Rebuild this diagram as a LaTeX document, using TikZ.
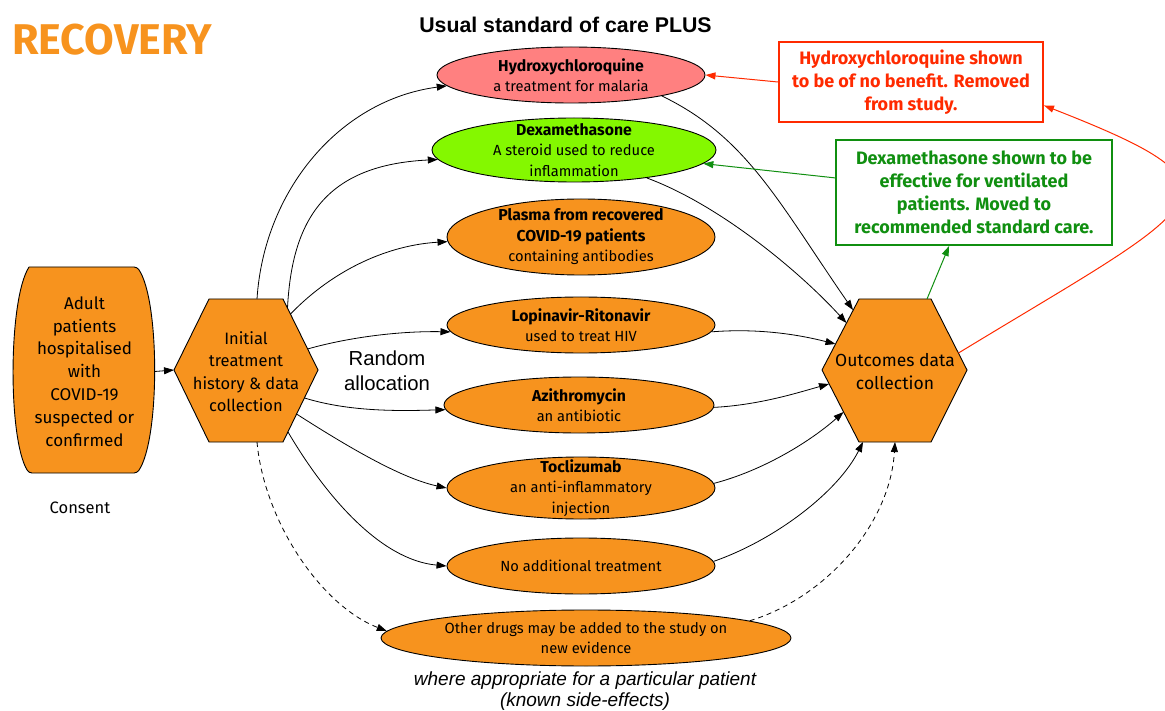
\documentclass[tikz,border=0pt]{standalone}
\usepackage{fontspec}
\setmainfont{Fira Sans}
\newfontfamily\helv{Liberation Sans}
\usetikzlibrary{arrows.meta,shapes.geometric}
\definecolor{orng}{HTML}{F7931E}
\definecolor{salmon}{HTML}{FF8080}
\definecolor{limec}{HTML}{84F800}
\definecolor{redc}{HTML}{FF2A00}
\definecolor{grn}{HTML}{108F10}
\newcommand{\bt}[1]{{\fontsize{15.8}{20.5}\selectfont\bfseries #1}}
\begin{document}
\begin{tikzpicture}[x=1pt,y=-1pt,
  drug/.style={ellipse, draw=black, line width=0.9pt, fill=orng, inner xsep=0pt, inner ysep=-40pt, align=center, font=\fontsize{14.7}{20.5}\selectfont},
  shapeline/.style={draw=black, line width=0.9pt, fill=orng},
  txt/.style={align=center, inner sep=0pt},
  conn/.style={-{Triangle[length=10pt,width=7pt]}, line width=0.8pt},
  dconn/.style={conn, dash pattern=on 5pt off 4pt},
  notebox/.style={draw, line width=2pt, inner sep=0pt, align=center, font=\fontsize{18}{22.8}\selectfont\bfseries}
]
\useasboundingbox (0,0) rectangle (1165,711);

% titles
\node[txt, text=orng, font=\fontsize{43}{43}\selectfont\bfseries] (title) at (112,40) {RECOVERY};
\node[txt, font=\helv\fontsize{21.3}{24}\selectfont\bfseries] (usual) at (565.5,25) {Usual standard of care PLUS};

% left patient box
\draw[shapeline, rounded corners=3pt] (29,267) -- (137,267) .. controls (160,300) and (160,440) .. (137,473) -- (29,473) .. controls (8,440) and (8,300) .. (29,267);
\node[txt, minimum width=140, minimum height=200, font=\fontsize{17}{22.8}\selectfont] (adult) at (84.5,371.5) {Adult\\patients\\hospitalised\\with\\COVID-19\\suspected or\\confirmed};
\node[txt, font=\fontsize{16.5}{20}\selectfont] (consent) at (80,508) {Consent};

% left hexagon
\draw[shapeline] (174,370) -- (209,299) -- (283,299) -- (318,370) -- (283,442) -- (209,442) -- cycle;
\node[txt, font=\fontsize{16.5}{22.5}\selectfont] (initial) at (246,371.5) {Initial\\treatment\\history \& data\\collection};
\coordinate (hW) at (174,370);
\coordinate (hA) at (257,299);
\coordinate (hB) at (287.5,308);
\coordinate (hC) at (290.5,314);
\coordinate (hD) at (307.5,349);
\coordinate (hE) at (304.5,398);
\coordinate (hF) at (296.5,414);
\coordinate (hG) at (288,432);
\coordinate (hH) at (257,442);

\node[txt, font=\helv\fontsize{20.3}{25}\selectfont] (random) at (387,370.5) {Random\\allocation};

% right hexagon
\draw[shapeline] (822,370) -- (859,299) -- (931,299) -- (967,370) -- (931,442) -- (859,442) -- cycle;
\node[txt, font=\fontsize{17.5}{23}\selectfont] (outcomes) at (895,371.5) {Outcomes data\\collection};
\coordinate (oA) at (853,310);
\coordinate (oB) at (846.5,323);
\coordinate (oC) at (835.5,344);
\coordinate (oD) at (829,384);
\coordinate (oE) at (843.5,412);
\coordinate (oF) at (863,442);
\coordinate (oG) at (895,442);
\coordinate (oT) at (927,299);
\coordinate (oR) at (958.5,353);

% drugs
\node[drug, fill=salmon, minimum width=268, minimum height=56] (hcq) at (571,75) {\bt{Hydroxychloroquine}\\a treatment for malaria};
\node[drug, fill=limec, minimum width=284, minimum height=64] (dex) at (574,150) {\bt{Dexamethasone}\\A steroid used to reduce\\inflammation};
\node[drug, minimum width=268, minimum height=76] (plasma) at (581,237) {\bt{Plasma from recovered}\\\bt{COVID-19 patients}\\containing antibodies};
\node[drug, minimum width=268, minimum height=56] (lopi) at (581,325) {\bt{Lopinavir-Ritonavir}\\used to treat HIV};
\node[drug, minimum width=270, minimum height=56] (azi) at (579,405) {\bt{Azithromycin}\\an antibiotic};
\node[drug, minimum width=268, minimum height=62] (toc) at (581,488) {\bt{Toclizumab}\\an anti-inflammatory\\injection};
\node[drug, minimum width=268, minimum height=56] (noadd) at (581,566) {No additional treatment};
\node[drug, minimum width=410, minimum height=56] (other) at (586,638) {Other drugs may be added to the study on\\new evidence};
\node[txt, font=\helv\itshape\fontsize{19}{21}\selectfont, anchor=north] (where) at (585,672) {where appropriate for a particular patient\\(known side-effects)};

% note boxes
\node[notebox, draw=redc, text=redc, minimum width=264, minimum height=80] (rbox) at (911,82) {Hydroxychloroquine shown\\to be of no benefit. Removed\\from study.};
\node[notebox, draw=grn, text=grn, minimum width=276, minimum height=105] (gbox) at (974,192.5) {Dexamethasone shown to be\\effective for ventilated\\patients. Moved to\\recommended standard care.};

% connectors left
\draw[conn] (adult.east) -- (hW);
\draw[conn] (hA) .. controls (264,190) and (340,100) .. (hcq.185);
\draw[conn] (hB) .. controls (292,220) and (325,165) .. (dex.184);
\draw[conn] (hC) .. controls (335,268) and (390,245) .. (plasma.182);
\draw[conn] (hD) .. controls (350,337) and (400,331) .. (lopi.183);
\draw[conn] (hE) .. controls (350,412) and (400,411) .. (azi.182);
\draw[conn] (hF) .. controls (345,445) and (400,478) .. (toc.180);
\draw[conn] (hG) .. controls (325,495) and (380,560) .. (noadd.180);
\draw[dconn] (hH) .. controls (264,520) and (320,605) .. (other.178);

% connectors right
\draw[conn] (hcq.347) .. controls (747,137) and (779,203) .. (oA);
\draw[conn] (dex.339) .. controls (720,205) and (800,272) .. (oB);
\draw[conn] (lopi.357) .. controls (760,328) and (800,335) .. (oC);
\draw[conn] (azi.359) .. controls (760,405) and (800,392) .. (oD);
\draw[conn] (toc.2) .. controls (765,470) and (812,440) .. (oE);
\draw[conn] (noadd.2) .. controls (775,540) and (838,492) .. (oF);
\draw[dconn] (other.6) .. controls (825,598) and (890,525) .. (oG);

% feedback
\draw[conn, color=redc, line width=1pt] (rbox.west) -- (hcq.east);
\draw[conn, color=grn, line width=1pt] (gbox.174) -- (dex.354);
\draw[conn, color=grn, line width=1pt] (oT) -- (gbox.245);
\draw[conn, color=redc, line width=1pt] (oR) .. controls (1210,200) and (1260,190) .. (rbox.350);
\end{tikzpicture}
\end{document}
